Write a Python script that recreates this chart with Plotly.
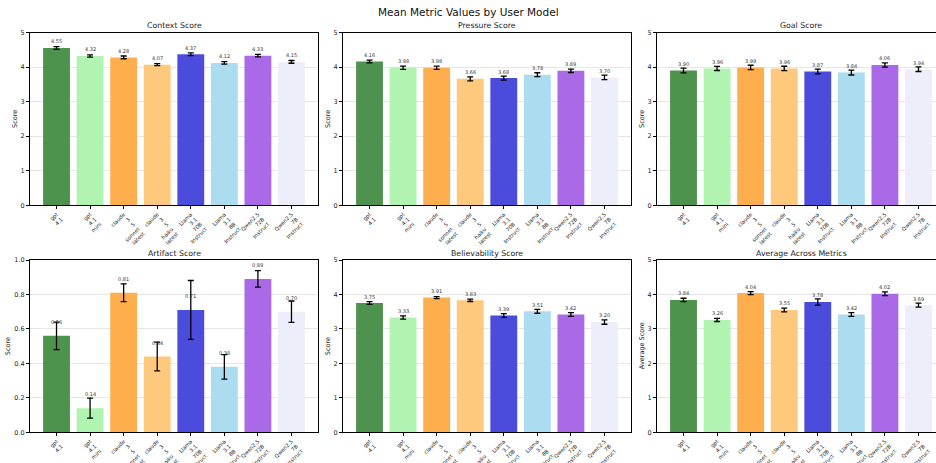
import plotly.graph_objects as go

# User models (tick labels are split on hyphens into stacked lines)
models = [
    "gpt\n4.1",
    "gpt\n4.1\nmini",
    "claude\n3\n5\nsonnet\nlatest",
    "claude\n3\n5\nhaiku\nlatest",
    "Llama\n3.1\n70B\nInstruct",
    "Llama\n3.1\n8B\nInstruct",
    "Qwen2.5\n72B\nInstruct",
    "Qwen2.5\n7B\nInstruct",
]

bar_colors = ["#4d924d", "#b1f3b1", "#ffae4d", "#ffc97d",
              "#4c4cdc", "#abdcf0", "#aa69e6", "#eeeefb"]

# Mean values and standard errors per metric
context_mean = [4.55, 4.32, 4.28, 4.07, 4.37, 4.12, 4.33, 4.15]
context_err = [0.04, 0.035, 0.04, 0.03, 0.04, 0.035, 0.035, 0.04]

pressure_mean = [4.16, 3.98, 3.98, 3.66, 3.68, 3.78, 3.89, 3.70]
pressure_err = [0.04, 0.045, 0.045, 0.058, 0.058, 0.055, 0.048, 0.065]

goal_mean = [3.90, 3.96, 3.99, 3.96, 3.87, 3.84, 4.06, 3.94]
goal_err = [0.068, 0.06, 0.063, 0.063, 0.068, 0.07, 0.063, 0.068]

artifact_mean = [0.56, 0.14, 0.81, 0.44, 0.71, 0.38, 0.89, 0.70]
artifact_err = [0.08, 0.058, 0.052, 0.083, 0.171, 0.071, 0.048, 0.062]

believability_mean = [3.75, 3.33, 3.91, 3.83, 3.39, 3.51, 3.42, 3.20]
believability_err = [0.04, 0.048, 0.03, 0.035, 0.053, 0.055, 0.055, 0.065]

average_mean = [3.84, 3.26, 4.04, 3.55, 3.78, 3.42, 4.02, 3.69]
average_err = [0.05, 0.045, 0.045, 0.055, 0.09, 0.055, 0.055, 0.06]

panels = [
    ("Context Score", context_mean, context_err, "Score", 5),
    ("Pressure Score", pressure_mean, pressure_err, "Score", 5),
    ("Goal Score", goal_mean, goal_err, "Score", 5),
    ("Artifact Score", artifact_mean, artifact_err, "Score", 1),
    ("Believability Score", believability_mean, believability_err, "Score", 5),
    ("Average Across Metrics", average_mean, average_err, "Average Score", 5),
]

W, H = 936, 463
FONT = "DejaVu Sans"

# Plot-area boxes in pixels: (left, right) per column, (top, bottom) per row
col_px = [(30, 318), (343, 631), (657, 945)]
row_px = [(32.5, 205.3), (260.0, 432.3)]

x_positions = list(range(len(models)))
tick_text = [m.replace("\n", "<br>") for m in models]

fig = go.Figure()
annotations = []

for i, (title, means, errs, ylabel, ymax) in enumerate(panels):
    r, c = divmod(i, 3)
    n = i + 1
    xa = "x" if n == 1 else f"x{n}"
    ya = "y" if n == 1 else f"y{n}"
    left, right = col_px[c]
    top, bottom = row_px[r]

    x_lo, x_hi = -0.79, 7.79
    px_per_unit = (right - left) / (x_hi - x_lo)
    if right > W:
        # panel runs past the page edge; trim the range accordingly
        x_hi = x_lo + (W - left) / px_per_unit
        right = W

    fig.add_trace(go.Bar(
        x=x_positions, y=means, width=0.8,
        marker=dict(color=bar_colors, line=dict(width=0)),
        error_y=dict(type="data", array=errs, visible=True,
                     color="black", thickness=1.3, width=3),
        xaxis=xa, yaxis=ya, showlegend=False, hoverinfo="skip",
    ))

    axis_common = dict(showline=True, linecolor="black", linewidth=1,
                       ticks="outside", ticklen=3, tickcolor="black",
                       automargin=False)

    fig.layout[("xaxis" if n == 1 else f"xaxis{n}")] = dict(
        domain=[left / W, right / W], anchor=ya, range=[x_lo, x_hi],
        tickvals=x_positions, ticktext=tick_text, tickangle=-45,
        showgrid=False, zeroline=False, mirror=True,
        tickfont=dict(family=FONT, size=5.3, color="#222"),
        **axis_common,
    )
    step = 0.2 if ymax == 1 else 1
    fig.layout[("yaxis" if n == 1 else f"yaxis{n}")] = dict(
        domain=[1 - bottom / H, 1 - top / H], anchor=xa, range=[0, ymax],
        dtick=step, tickformat=".1f" if ymax == 1 else "d",
        showgrid=True, gridcolor="#e6e6e6", gridwidth=1, zeroline=False,
        mirror=(right < W),
        tickfont=dict(family=FONT, size=6.5, color="#222"),
        **axis_common,
    )

    # y-axis title, placed just left of the tick labels
    label_gap = 22 if ymax == 1 else 15
    annotations.append(dict(
        text=ylabel, xref="paper", yref="paper",
        x=(left - label_gap) / W, y=1 - (top + bottom) / 2 / H,
        xanchor="center", yanchor="middle", textangle=-90, showarrow=False,
        font=dict(family=FONT, size=6.5, color="#222"),
    ))

    # subplot title
    annotations.append(dict(
        text=title, xref="paper", yref="paper",
        x=(left + (col_px[c][1] - left) / 2) / W, y=1 - (top - 7) / H,
        xanchor="center", yanchor="middle", showarrow=False,
        font=dict(family=FONT, size=7.8, color="#222"),
    ))

    # value labels above each bar
    offset = 0.08 if ymax == 1 else 0.19
    for xv, v in zip(x_positions, means):
        annotations.append(dict(
            text=f"{v:.2f}", x=xv, y=v + offset, xref=xa, yref=ya,
            xanchor="center", yanchor="middle", showarrow=False,
            font=dict(family=FONT, size=5, color="#333"),
        ))

annotations.append(dict(
    text="Mean Metric Values by User Model", xref="paper", yref="paper",
    x=0.5, y=1 - 12.5 / H, xanchor="center", yanchor="middle", showarrow=False,
    font=dict(family=FONT, size=10.5, color="#111"),
))

fig.update_layout(
    width=W, height=H,
    margin=dict(l=0, r=0, t=0, b=0),
    paper_bgcolor="white", plot_bgcolor="white",
    bargap=0.2, annotations=annotations,
    font=dict(family=FONT),
)

fig.write_html("out.html")
